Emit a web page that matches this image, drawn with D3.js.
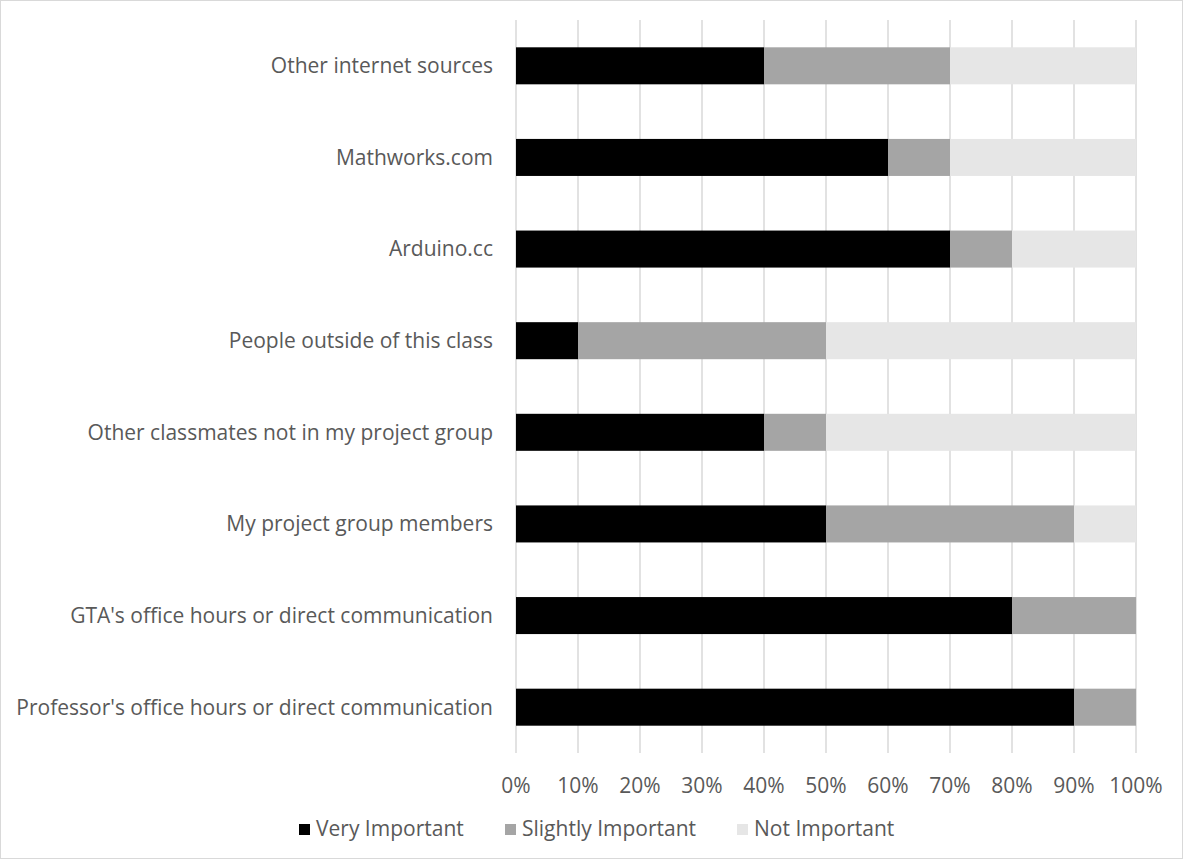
<!DOCTYPE html>
<html><head><meta charset="utf-8">
<script src="https://cdn.jsdelivr.net/npm/d3@7"></script>
<style>body{margin:0;background:#fff}svg{display:block}</style>
</head><body>
<script>
const categories = ["Other internet sources","Mathworks.com","Arduino.cc","People outside of this class","Other classmates not in my project group","My project group members","GTA's office hours or direct communication","Professor's office hours or direct communication"];
const seriesNames = ["Very Important","Slightly Important","Not Important"];
const veryImportant = [40,60,70,10,40,50,80,90];
const slightlyImportant = [30,10,10,40,10,40,20,10];
const notImportant = [30,30,20,50,50,10,0,0];
const tickValues = [0,10,20,30,40,50,60,70,80,90,100];
const colors = ["#000000","#a5a5a5","#e6e6e6"];

const W=1183,H=859;
const svg=d3.select("body").append("svg").attr("width",W).attr("height",H);
svg.append("rect").attr("x",0.5).attr("y",0.5).attr("width",W-1).attr("height",H-1).attr("fill","#fff").attr("stroke","#d9d9d9");
const font="'Open Sans', 'Liberation Sans', sans-serif";
const txt="#595959";
const fs=21;
const x=d3.scaleLinear().domain([0,100]).range([516,1136]);
const y=d3.scaleBand().domain(categories).range([20,753]).paddingInner(0.596).paddingOuter(0.298);

// gridlines
svg.append("g").selectAll("line").data(tickValues).join("line")
  .attr("x1",d=>x(d)).attr("x2",d=>x(d)).attr("y1",20).attr("y2",753)
  .attr("stroke","#d9d9d9").attr("stroke-width",1.5);

const rows=categories.map((c,i)=>({cat:c,"Very Important":veryImportant[i],"Slightly Important":slightlyImportant[i],"Not Important":notImportant[i]}));
const stacked=d3.stack().keys(seriesNames)(rows);
svg.append("g").selectAll("g").data(stacked).join("g").attr("fill",(d,i)=>colors[i])
  .selectAll("rect").data(d=>d).join("rect")
  .attr("x",d=>x(d[0])).attr("width",d=>x(d[1])-x(d[0]))
  .attr("y",d=>y(d.data.cat)).attr("height",y.bandwidth());

// y labels
svg.append("g").selectAll("text").data(categories).join("text")
  .attr("x",493).attr("y",d=>y(d)+y.bandwidth()/2).attr("dy","0.35em")
  .attr("text-anchor","end").attr("fill",txt).attr("font-family",font).attr("font-size",fs)
  .text(d=>d);

// x ticks
svg.append("g").selectAll("text").data(tickValues).join("text")
  .attr("x",d=>x(d)).attr("y",786).attr("dy","0.35em").attr("text-anchor","middle")
  .attr("fill",txt).attr("font-family",font).attr("font-size",fs)
  .text(d=>d+"%");

// legend
const legX=[299,505,737];
const lg=svg.append("g").selectAll("g").data(seriesNames).join("g");
lg.append("rect").attr("x",(d,i)=>legX[i]).attr("y",824).attr("width",11).attr("height",11).attr("fill",(d,i)=>colors[i]);
lg.append("text").attr("x",(d,i)=>legX[i]+17).attr("y",829).attr("dy","0.35em")
  .attr("fill",txt).attr("font-family",font).attr("font-size",fs).text(d=>d);
</script>
</body></html>
